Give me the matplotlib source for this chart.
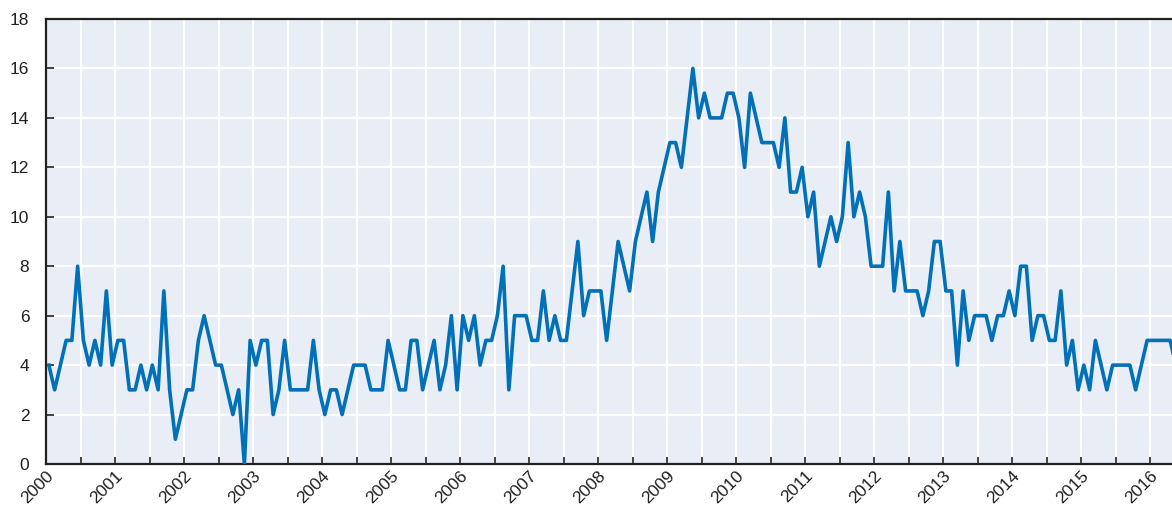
import matplotlib
matplotlib.use("Agg")
import matplotlib.pyplot as plt
from matplotlib.ticker import MultipleLocator

# Monthly series, Jan 2000 onwards
valores = [
    4, 3, 4, 5, 5, 8, 5, 4, 5, 4, 7, 4,          # 2000
    5, 5, 3, 3, 4, 3, 4, 3, 7, 3, 1, 2,          # 2001
    3, 3, 5, 6, 5, 4, 4, 3, 2, 3, 0, 5,          # 2002
    4, 5, 5, 2, 3, 5, 3, 3, 3, 3, 5, 3,          # 2003
    2, 3, 3, 2, 3, 4, 4, 4, 3, 3, 3, 5,          # 2004
    4, 3, 3, 5, 5, 3, 4, 5, 3, 4, 6, 3,          # 2005
    6, 5, 6, 4, 5, 5, 6, 8, 3, 6, 6, 6,          # 2006
    5, 5, 7, 5, 6, 5, 5, 7, 9, 6, 7, 7,          # 2007
    7, 5, 7, 9, 8, 7, 9, 10, 11, 9, 11, 12,      # 2008
    13, 13, 12, 14, 16, 14, 15, 14, 14, 14, 15, 15,  # 2009
    14, 12, 15, 14, 13, 13, 13, 12, 14, 11, 11, 12,  # 2010
    10, 11, 8, 9, 10, 9, 10, 13, 10, 11, 10, 8,  # 2011
    8, 8, 11, 7, 9, 7, 7, 7, 6, 7, 9, 9,         # 2012
    7, 7, 4, 7, 5, 6, 6, 6, 5, 6, 6, 7,          # 2013
    6, 8, 8, 5, 6, 6, 5, 5, 7, 4, 5, 3,          # 2014
    4, 3, 5, 4, 3, 4, 4, 4, 4, 3, 4, 5,          # 2015
    5, 5, 5, 5, 4,                               # 2016
]
anio_inicio = 2000
anios = list(range(2000, 2017))
y_ticks = list(range(0, 19, 2))

# Puntos en el centro de cada mes
fechas = [anio_inicio + (i + 0.5) / 12 for i in range(len(valores))]

fondo = "#e9edf5"
azul = "#0070b8"
oscuro = "#231f20"

plt.rcParams['font.family'] = ['Liberation Sans Narrow', 'Liberation Sans', 'DejaVu Sans']

fig = plt.figure(figsize=(11.72, 5.07), dpi=100)
ax = fig.add_axes([46 / 1172, 1 - 464 / 507, 1 - 46 / 1172, (464 - 19) / 507])
ax.set_facecolor(fondo)

ax.plot(fechas, valores, color=azul, linewidth=2.6, zorder=3)

ax.set_xlim(2000, 2000 + 1126 / 69)
ax.set_ylim(0, 18)

ax.xaxis.set_major_locator(MultipleLocator(1))
ax.xaxis.set_minor_locator(MultipleLocator(0.5))
ax.set_xticks(anios)
ax.set_xticklabels([str(a) for a in anios], rotation=45, ha='right',
                   rotation_mode='anchor', fontsize=12.5, color=oscuro)
ax.set_yticks(y_ticks)
ax.set_yticklabels([str(v) for v in y_ticks], fontsize=12.5, color=oscuro)

ax.grid(True, which='both', color='white', linewidth=1.6, zorder=1)
ax.set_axisbelow(True)

ax.tick_params(axis='x', which='both', direction='in', length=5, width=1.2,
               color=oscuro, pad=3)
ax.tick_params(axis='y', which='major', direction='in', length=6, width=1.2,
               color=oscuro, pad=12)

for lado in ['left', 'bottom', 'top']:
    ax.spines[lado].set_color(oscuro)
    ax.spines[lado].set_linewidth(1.6)
ax.spines['right'].set_visible(False)

fig.savefig("out.png", dpi=100)
